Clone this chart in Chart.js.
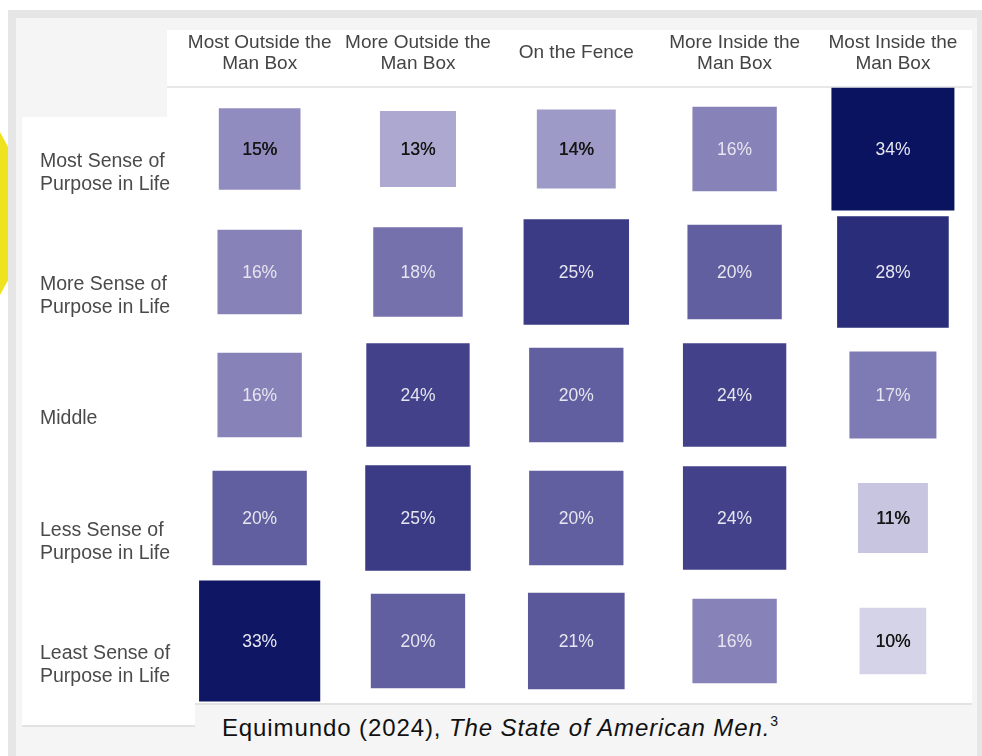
<!DOCTYPE html>
<html><head><meta charset="utf-8">
<script src="https://cdn.jsdelivr.net/npm/chart.js@4/dist/chart.umd.min.js"></script>
<style>
html,body{margin:0;padding:0;}
body{width:982px;height:756px;position:relative;overflow:hidden;background:#fff;font-family:"Liberation Sans",Arial,Helvetica,sans-serif;}
.abs{position:absolute;}
#yellow{left:0;top:132px;width:8px;height:163px;background:#efe31f;clip-path:polygon(0 0,100% 9%,100% 91%,0 100%);}
#frame{left:8px;top:10px;width:974px;height:746px;background:#e6e6e6;}
#inner{left:16px;top:18px;width:961px;height:738px;background:#f5f5f5;}
#main{left:167px;top:30px;width:805px;height:673px;background:#fff;border-bottom:2px solid #e3e3e3;}
#headline{left:167px;top:86px;width:805px;height:2px;background:#e8e8e8;}
#rowpanel{left:22px;top:117px;width:173px;height:608px;background:#fff;border-bottom:2px solid #e3e3e3;}
#caption{left:0;top:712px;width:1000px;text-align:center;font-size:24px;line-height:32px;letter-spacing:0.9px;color:#111;white-space:nowrap;}
#caption sup{font-size:14px;vertical-align:0;position:relative;top:-10px;letter-spacing:0;}
canvas{position:absolute;left:0;top:0;}
</style>
</head><body>
<div id="yellow" class="abs"></div>
<div id="frame" class="abs"></div>
<div id="inner" class="abs"></div>
<div id="main" class="abs"></div>
<div id="headline" class="abs"></div>
<div id="rowpanel" class="abs"></div>
<div id="caption" class="abs">Equimundo (2024), <i>The State of American Men.</i><sup>3</sup></div>
<canvas id="c" width="982" height="756"></canvas>
<script>
// Column categories (header labels)
const columnLabels = [
  ['Most Outside the', 'Man Box'],
  ['More Outside the', 'Man Box'],
  'On the Fence',
  ['More Inside the', 'Man Box'],
  ['Most Inside the', 'Man Box']
];
// Row categories
const rowLabels = [
  ['Most Sense of', 'Purpose in Life'],
  ['More Sense of', 'Purpose in Life'],
  'Middle',
  ['Less Sense of', 'Purpose in Life'],
  ['Least Sense of', 'Purpose in Life']
];
// Values (%) per row, in column order
const mostSense  = [15, 13, 14, 16, 34];
const moreSense  = [16, 18, 25, 20, 28];
const middle     = [16, 24, 20, 24, 17];
const lessSense  = [20, 25, 20, 24, 11];
const leastSense = [33, 20, 21, 16, 10];

const rowsValues = [mostSense, moreSense, middle, lessSense, leastSense];
const points = [];
rowsValues.forEach((row, r) => row.forEach((v, c) => points.push({ x: c, y: r, v: v })));
const maxV = Math.max(...points.map(p => p.v));

// colour ramp (value -> colour)
const stops = [
  [10, [213, 211, 231]],
  [15, [144, 140, 191]],
  [20, [98, 95, 160]],
  [25, [58, 58, 133]],
  [34, [10, 19, 96]]
];
function colorFor(v) {
  if (v <= stops[0][0]) return 'rgb(' + stops[0][1].join(',') + ')';
  for (let i = 1; i < stops.length; i++) {
    if (v <= stops[i][0]) {
      const [v0, c0] = stops[i - 1], [v1, c1] = stops[i];
      const t = (v - v0) / (v1 - v0);
      const c = c0.map((a, k) => Math.round(a + (c1[k] - a) * t));
      return 'rgb(' + c.join(',') + ')';
    }
  }
  return 'rgb(' + stops[stops.length - 1][1].join(',') + ')';
}

const FONT = '"Liberation Sans", Arial, Helvetica, sans-serif';

const valueLabels = {
  id: 'valueLabels',
  afterDatasetsDraw(chart) {
    const ctx = chart.ctx;
    const meta = chart.getDatasetMeta(0);
    ctx.save();
    ctx.textAlign = 'center';
    ctx.textBaseline = 'middle';
    ctx.font = '17.5px ' + FONT;
    meta.data.forEach((el, i) => {
      const v = chart.data.datasets[0].data[i].v;
      const dark = v <= 15;
      ctx.fillStyle = dark ? '#161616' : '#e6e6f0';
      ctx.fillText(v + '%', el.x, el.y + 1);
      if (dark) ctx.fillText(v + '%', el.x + 0.4, el.y + 1);
    });
    ctx.restore();
  }
};

new Chart(document.getElementById('c'), {
  type: 'scatter',
  data: {
    datasets: [{
      data: points,
      pointStyle: 'rect',
      borderWidth: 0,
      backgroundColor: ctx => colorFor(ctx.raw ? ctx.raw.v : 10),
      radius: ctx => {
        const ys = ctx.chart.scales.y;
        if (!ys || !ctx.raw) return 0;
        const band = Math.abs(ys.getPixelForValue(1) - ys.getPixelForValue(0));
        return band * Math.sqrt(ctx.raw.v / maxV) / Math.SQRT2;
      },
      hoverRadius: 0
    }]
  },
  options: {
    responsive: false,
    animation: false,
    events: [],
    layout: { padding: { left: 40, right: 6.5, top: 0, bottom: 53.5 } },
    plugins: { legend: { display: false }, tooltip: { enabled: false } },
    scales: {
      x: {
        type: 'linear',
        position: 'top',
        min: -0.5, max: 4.5,
        grid: { display: false, drawTicks: false },
        border: { display: false },
        afterBuildTicks: axis => { axis.ticks = columnLabels.map((_, i) => ({ value: i })); },
        afterFit: axis => { axis.height = 87.5; },
        ticks: {
          autoSkip: false,
          maxRotation: 0,
          crossAlign: 'center',
          padding: 24,
          color: '#444444',
          font: { family: FONT, size: 19, lineHeight: 1.105 },
          callback: v => columnLabels[v]
        }
      },
      y: {
        type: 'linear',
        reverse: true,
        min: -0.5, max: 4.5,
        grid: { display: false, drawTicks: false },
        border: { display: false },
        afterBuildTicks: axis => { axis.ticks = rowLabels.map((_, i) => ({ value: i })); },
        afterFit: axis => { axis.width = 140.5; },
        ticks: {
          autoSkip: false,
          crossAlign: 'far',
          labelOffset: 24,
          color: '#4a4a4a',
          font: { family: FONT, size: 19.5, lineHeight: 1.18 },
          callback: v => rowLabels[v]
        }
      }
    }
  },
  plugins: [valueLabels]
});
</script>
</body></html>
